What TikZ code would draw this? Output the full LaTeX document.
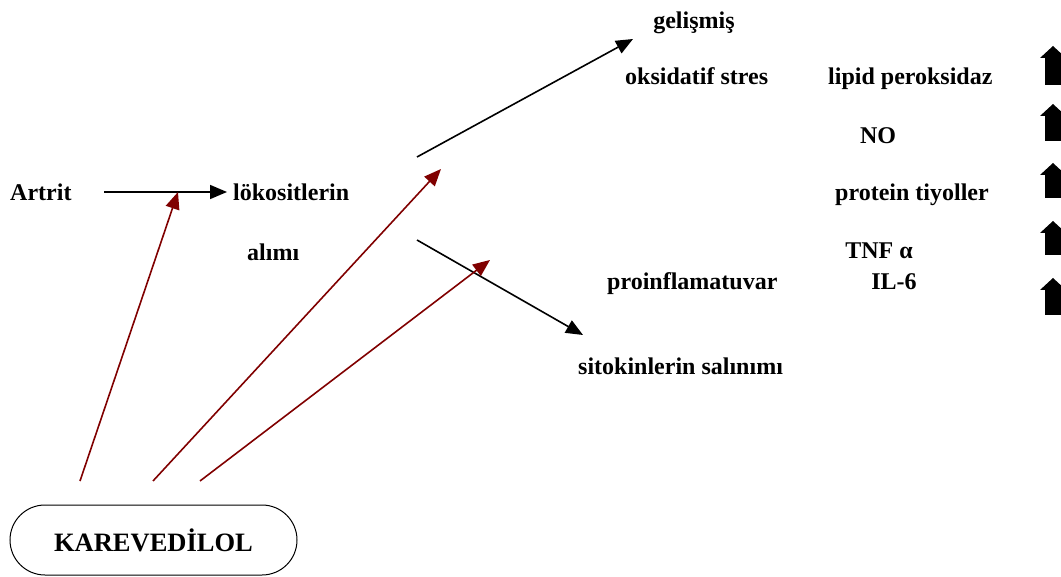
\documentclass[tikz,border=0pt]{standalone}
\usepackage{fontspec}
\setmainfont{Liberation Serif}
\usetikzlibrary{arrows.meta,shapes.misc}
\begin{document}
\begin{tikzpicture}[x=1pt,y=-1pt,
  lbl/.style={font=\fontsize{24}{28}\selectfont\bfseries, inner sep=0pt, anchor=base west},
  lblc/.style={lbl, anchor=base},
  blk/.style={line width=1.6pt, -{Triangle[length=17pt,width=14pt]}},
  red/.style={draw=red!50!black, line width=1.6pt, -{Triangle[length=17pt,width=14pt]}}]
\useasboundingbox (0,0) rectangle (1061,577);
\node[lbl] (artrit) at (10,201) {Artrit};
\node[lbl] (lok) at (233,201) {lökositlerin};
\node[lbl] (alimi) at (247,261) {alımı};
\node[lblc] (gel) at (694,29) {gelişmiş};
\node[lbl] (oks) at (625,85) {oksidatif stres};
\node[lbl] (lip) at (828,85) {lipid peroksidaz};
\node[lblc] (no) at (878,144) {NO};
\node[lbl] (prot) at (835,201) {protein tiyoller};
\node[lblc] (tnf) at (879,259) {TNF α};
\node[lbl] (pro) at (607,290) {proinflamatuvar};
\node[lblc] (il) at (894,290) {IL-6};
\node[lbl] (sit) at (578,375) {sitokinlerin salınımı};
\node[draw, line width=1pt, rounded rectangle, minimum width=287pt, minimum height=70pt,
  font=\fontsize{26.5}{30}\selectfont\bfseries, inner sep=0pt] (kar) at (153.5,540) {KAREVEDİLOL};
\coordinate (a1) at (104,192);
\coordinate (a1e) at (227,192);
\draw[blk] (a1) -- (a1e);
\coordinate (b1) at (417,157);
\coordinate (b1e) at (633,39);
\draw[blk] (b1) -- (b1e);
\coordinate (b2) at (417,240);
\coordinate (b2e) at (583,335);
\draw[blk] (b2) -- (b2e);
\coordinate (r1) at (80,481);
\coordinate (r1e) at (178,192);
\coordinate (r2) at (153,481);
\coordinate (r2e) at (441,169);
\coordinate (r3) at (200,481);
\coordinate (r3e) at (490,260);
\draw[red] (r1) -- (r1e);
\draw[red] (r2) -- (r2e);
\draw[red] (r3) -- (r3e);
\begin{scope}
\clip (0,0) rectangle (1061,577);
\foreach \t/\b in {46/85, 104/141, 163/198, 221/255, 278/315} {
  \fill (1045,\b) -- (1045,\t+12) -- (1040,\t+12) -- (1053,\t) -- (1066,\t+12) -- (1061,\t+12) -- (1061,\b) -- cycle;
}
\end{scope}
\end{tikzpicture}
\end{document}
